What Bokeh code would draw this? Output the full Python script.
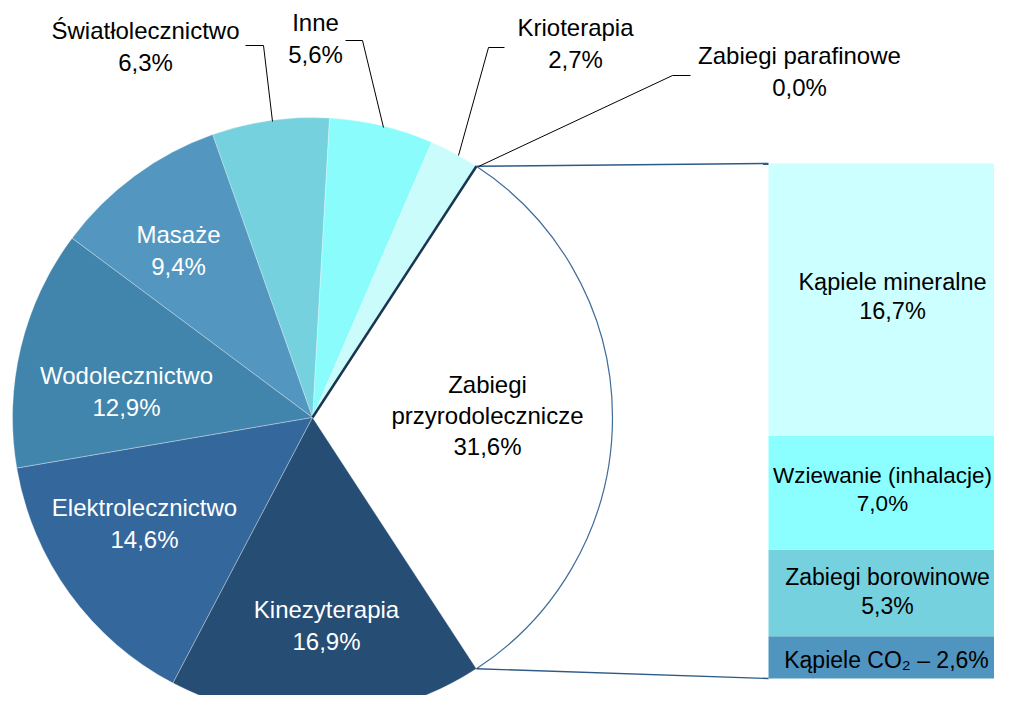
import math
from bokeh.plotting import figure
from bokeh.models import Range1d, ColumnDataSource
from bokeh.embed import file_html
from bokeh.resources import INLINE
from bokeh.core.properties import value

# ---------------- data ----------------
pie_labels = ["Zabiegi\nprzyrodolecznicze", "Zabiegi parafinowe", "Krioterapia", "Inne",
              "Światłolecznictwo", "Masaże", "Wodolecznictwo", "Elektrolecznictwo", "Kinezyterapia"]
pie_values = [31.6, 0.0, 2.7, 5.6, 6.3, 9.4, 12.9, 14.6, 16.9]
pie_colors = ["#FFFFFF", "#1F3F60", "#CBFCFC", "#8BFCFC", "#75D1DE", "#5397C0", "#4185AD", "#34679C", "#264D73"]
pie_text_colors = ["black", "black", "black", "black", "black", "white", "white", "white", "white"]

bar_labels = ["Kąpiele CO₂", "Zabiegi borowinowe", "Wziewanie (inhalacje)", "Kąpiele mineralne"]
bar_values = [2.6, 5.3, 7.0, 16.7]
bar_colors = ["#5095BF", "#75D1DE", "#8BFFFF", "#CCFFFF"]

# ---------------- layout (image pixel coordinates) ----------------
IMG_H = 711
def Y(y):
    return IMG_H - y

W, H = 994, 695
CX, CY, R = 312, Y(417), 300
BAR_L, BAR_R = 768, 1010
BAR_BOTTOM, BAR_TOP = Y(678), Y(163)
FONT = value("Liberation Sans")

pie_label_pos = [(487, 415), (799, 71), (575, 43), (315, 38), (145, 46),
                 (178, 250), (126, 391), (144, 523), (326, 625)]
bar_label_pos = [(886, 659), (887, 591), (882, 489), (892, 296)]
bar_font_sizes = ["23px", "23px", "22.5px", "23.5px"]

def fmt(v):
    return f"{v:.1f}%".replace(".", ",")

p = figure(width=W, height=H, x_range=Range1d(0, W), y_range=Range1d(IMG_H - H, IMG_H),
           output_backend="svg", toolbar_location=None, min_border=0,
           x_axis_location=None, y_axis_location=None)
p.grid.visible = False
p.outline_line_color = None
p.background_fill_color = "white"

# ---------------- pie ----------------
total = sum(pie_values)
start0 = -pie_values[0] / total * math.pi
starts, ends = [], []
a = start0
for v in pie_values:
    starts.append(a)
    a += v / total * 2 * math.pi
    ends.append(a)

keep = [i for i, v in enumerate(pie_values) if v > 0]
src = ColumnDataSource(dict(start=[starts[i] for i in keep], end=[ends[i] for i in keep],
                            color=[pie_colors[i] for i in keep]))
p.wedge(x=CX, y=CY, radius=R, start_angle="start", end_angle="end", fill_color="color",
        line_color="white", line_alpha=0.45, line_width=0.7, direction="anticlock", source=src)

# outline of the exploded slice arc
p.arc(x=CX, y=CY, radius=R, start_angle=starts[0], end_angle=ends[0], line_color="#3F6C98",
      line_width=1.2, direction="anticlock")

# zero-size slice drawn as a dark radius
a_top = ends[0]
p.segment(x0=CX, y0=CY, x1=CX + R * math.cos(a_top), y1=CY + R * math.sin(a_top),
          line_color="#1A3550", line_width=2.5)

# ---------------- bar of pie ----------------
scale = (BAR_TOP - BAR_BOTTOM) / sum(bar_values)
bottoms, tops = [], []
c = BAR_BOTTOM
for v in bar_values:
    bottoms.append(c)
    c += v * scale
    tops.append(c)
p.quad(left=BAR_L, right=BAR_R, bottom=bottoms, top=tops, fill_color=bar_colors, line_color=None)

# connector lines
p.segment(x0=[CX + R * math.cos(a_top), CX + R * math.cos(starts[0])],
          y0=[CY + R * math.sin(a_top), CY + R * math.sin(starts[0])],
          x1=[BAR_L, BAR_L], y1=[tops[-1], bottoms[0]],
          line_color="#2D5A86", line_width=1.4)

# leader lines
lead_xs = [[245, 263, 272], [345, 362, 383], [504, 488, 458], [690, 672, 478]]
lead_ys = [[Y(45), Y(45), Y(121)], [Y(40), Y(40), Y(127)], [Y(47), Y(47), Y(155)], [Y(75), Y(75), Y(166)]]
p.multi_line(xs=lead_xs, ys=lead_ys, line_color="black", line_width=1)

# ---------------- labels ----------------
pie_texts = [f"{n}\n{fmt(v)}" for n, v in zip(pie_labels, pie_values)]
p.text(x=[q[0] for q in pie_label_pos], y=[Y(q[1]) for q in pie_label_pos], text=pie_texts,
       text_color=pie_text_colors, text_font=FONT, text_font_size="24px", text_align="center",
       text_baseline="middle", text_line_height=1.15)

bar_texts = [f"{bar_labels[0]} – {fmt(bar_values[0])}"] + \
            [f"{n}\n{fmt(v)}" for n, v in zip(bar_labels[1:], bar_values[1:])]
bsrc = ColumnDataSource(dict(x=[q[0] for q in bar_label_pos], y=[Y(q[1]) for q in bar_label_pos],
                             text=bar_texts, fs=bar_font_sizes))
p.text(x="x", y="y", text="text", text_font_size="fs", source=bsrc,
       text_color="black", text_font=FONT, text_align="center",
       text_baseline="middle", text_line_height=1.15)

open("out.html", "w").write(file_html(p, INLINE))
